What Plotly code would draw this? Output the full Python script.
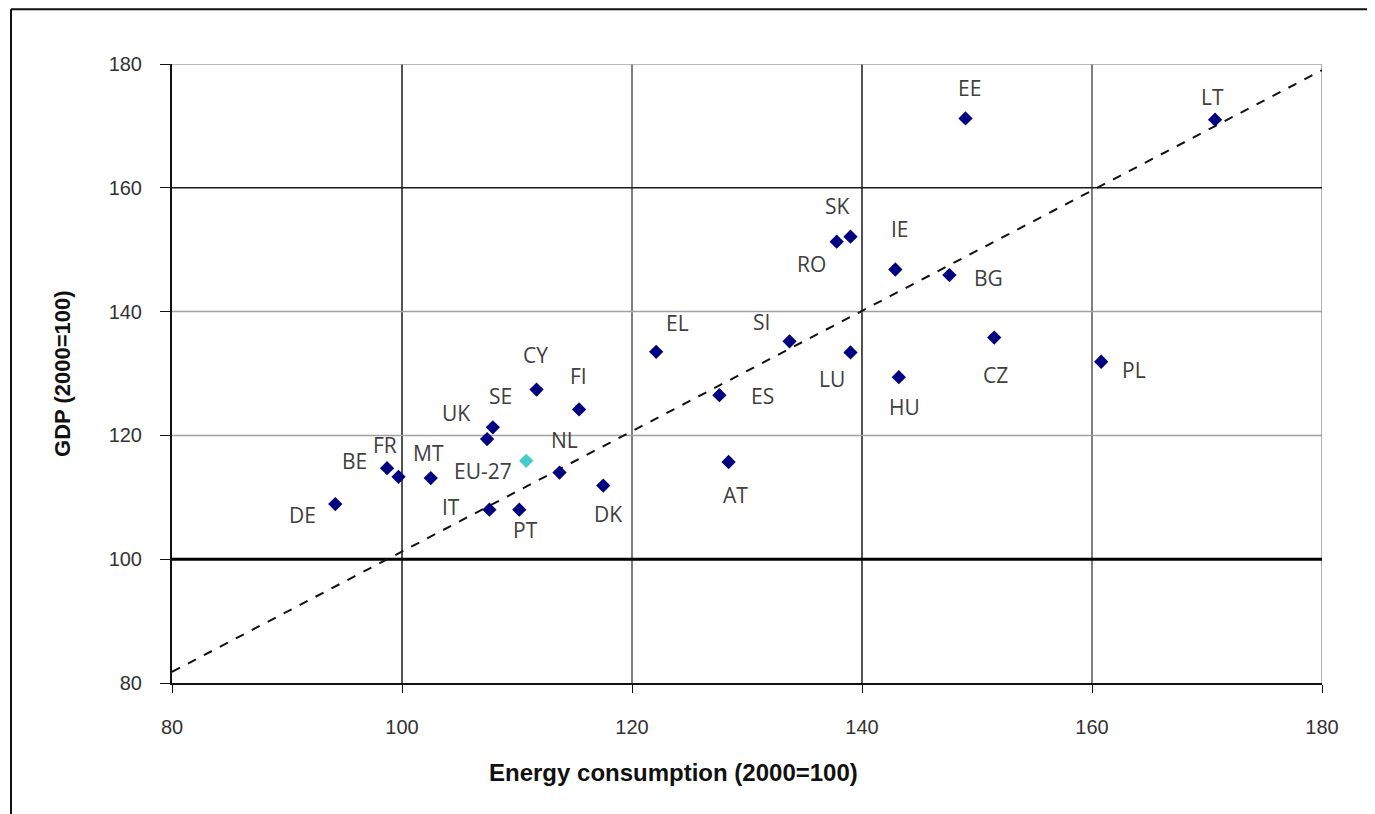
import plotly.graph_objects as go

# Country codes and index values (2000=100)
countries = ["DE", "BE", "FR", "MT", "UK", "SE", "CY", "FI", "NL", "IT", "PT", "DK",
             "EL", "ES", "AT", "SI", "LU", "RO", "SK", "IE", "BG", "EE", "HU", "CZ",
             "PL", "LT"]
energy = [94.2, 98.7, 99.7, 102.5, 107.4, 107.9, 111.7, 115.4, 113.7, 107.6, 110.2, 117.5,
          122.1, 127.6, 128.4, 133.7, 139.0, 137.8, 139.0, 142.9, 147.6, 149.0, 143.2, 151.5,
          160.8, 170.7]
gdp = [108.9, 114.7, 113.3, 113.1, 119.4, 121.3, 127.4, 124.2, 114.0, 108.0, 108.0, 111.9,
       133.5, 126.5, 115.7, 135.2, 133.4, 151.3, 152.1, 146.8, 145.9, 171.2, 129.4, 135.8,
       131.9, 171.0]

eu_label = "EU-27"
eu_energy = [110.8]
eu_gdp = [115.9]

trend_x = [80, 180]
trend_y = [81.8, 179.0]

x_ticks = [80, 100, 120, 140, 160, 180]
y_ticks = [80, 100, 120, 140, 160, 180]

# label placement in pixels relative to the marker (dx right, dy down)
label_offsets = {
    "DE": (-33, 11), "BE": (-33, -7), "FR": (-14, -32), "MT": (-2, -25),
    "UK": (-31, -26), "SE": (8, -31), "CY": (-1, -35), "FI": (-1, -33),
    "NL": (5, -33), "IT": (-38, -3), "PT": (6, 20), "DK": (5, 28),
    "EL": (21, -29), "ES": (43, 1), "AT": (7, 33), "SI": (-28, -19),
    "LU": (-19, 27), "RO": (-25, 22), "SK": (-13, -31), "IE": (5, -41),
    "BG": (39, 3), "EE": (4, -30), "HU": (6, 30), "CZ": (1, 37),
    "PL": (33, 8), "LT": (-3, -23), "EU-27": (-43, 10),
}

label_font = dict(family="Open Sans, Lato, sans-serif", size=21, color="#404040")
tick_font = dict(family="Liberation Sans, Arial, sans-serif", size=20, color="#333333")
x_title_font = dict(family="Liberation Sans, Arial, sans-serif", size=24, color="#111111")
y_title_font = dict(family="Liberation Sans, Arial, sans-serif", size=22, color="#111111")

fig = go.Figure()

fig.add_trace(go.Scatter(x=trend_x, y=trend_y, mode="lines",
                         line=dict(color="#111111", width=2, dash="dash"),
                         showlegend=False, hoverinfo="skip"))

fig.add_trace(go.Scatter(x=energy, y=gdp, mode="markers", text=countries,
                         marker=dict(symbol="diamond", size=11, color="#000080"),
                         showlegend=False))

fig.add_trace(go.Scatter(x=eu_energy, y=eu_gdp, mode="markers", text=[eu_label],
                         marker=dict(symbol="diamond", size=11, color="#44CCCC"),
                         showlegend=False))

# country labels
for name, xv, yv in list(zip(countries, energy, gdp)) + [(eu_label, eu_energy[0], eu_gdp[0])]:
    dx, dy = label_offsets[name]
    fig.add_annotation(x=xv, y=yv, text=name, showarrow=False, font=label_font,
                       xshift=dx, yshift=-dy)

# gridlines drawn by hand so each can get its own weight
shapes = []
for v in x_ticks[1:]:
    col = "#1a1a1a" if v in (100, 140) else "#555555"
    if v == 180:
        col = "#999999"
    shapes.append(dict(type="line", xref="x", yref="paper", x0=v, x1=v, y0=0, y1=1,
                       line=dict(color=col, width=1.5), layer="below"))
for v in y_ticks[1:]:
    col, w = "#a0a0a0", 1.5
    if v == 160:
        col = "#1a1a1a"
    if v == 100:
        col, w = "#000000", 3
    shapes.append(dict(type="line", xref="paper", yref="y", x0=0, x1=1, y0=v, y1=v,
                       line=dict(color=col, width=w), layer="below"))

# outer frame of the picture (top and left edges)
shapes.append(dict(type="line", xref="paper", yref="paper", x0=-0.140, x1=1.05,
                   y0=1.0885, y1=1.0885, line=dict(color="#111111", width=2)))
shapes.append(dict(type="line", xref="paper", yref="paper", x0=-0.140, x1=-0.140,
                   y0=1.0885, y1=-0.25, line=dict(color="#111111", width=2)))

# page body adds an 8px margin, so the figure is 8px smaller on each side
fig.update_layout(
    width=1367, height=806,
    margin=dict(l=164, r=53, t=56, b=131),
    paper_bgcolor="white", plot_bgcolor="white",
    shapes=shapes,
    xaxis=dict(range=[80, 180], tickvals=x_ticks, showgrid=False, zeroline=False,
               showline=True, linecolor="#111111", linewidth=2,
               ticks="outside", ticklen=8, tickcolor="#111111",
               tickfont=tick_font, ticklabelstandoff=17),
    yaxis=dict(range=[80, 180], tickvals=y_ticks, showgrid=False, zeroline=False,
               showline=True, linecolor="#111111", linewidth=2,
               ticks="outside", ticklen=10, tickcolor="#111111",
               tickfont=tick_font, ticklabelstandoff=14),
)

fig.add_annotation(xref="paper", yref="paper", x=0.4365, y=-0.1438,
                   text="<b>Energy consumption (2000=100)</b>", showarrow=False,
                   font=x_title_font, xanchor="center", yanchor="middle")
fig.add_annotation(xref="paper", yref="paper", x=-0.0957, y=0.5008,
                   text="<b>GDP (2000=100)</b>", showarrow=False, textangle=-90,
                   font=y_title_font, xanchor="center", yanchor="middle")

fig.write_html("out.html")
